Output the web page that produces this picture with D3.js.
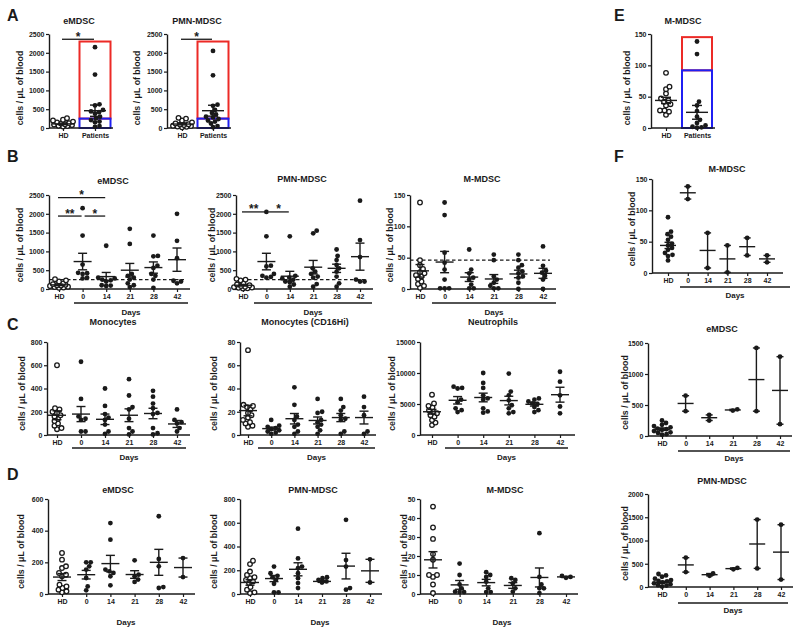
<!DOCTYPE html>
<html><head><meta charset="utf-8">
<script src="https://cdn.jsdelivr.net/npm/d3@7"></script>
<style>body{margin:0;background:#fff} svg{display:block}</style>
</head><body><script>
// ---------------- DATA ----------------
const catsAE = ["HD", "Patients"];
const catsDays = ["HD", "0", "14", "21", "28", "42"];
const t2500 = [0, 500, 1000, 1500, 2000, 2500];
const t150 = [0, 50, 100, 150];
const t800 = [0, 200, 400, 600, 800];
const t80 = [0, 20, 40, 60, 80];
const t15000 = [0, 5000, 10000, 15000];
const t600 = [0, 200, 400, 600];
const t50 = [0, 10, 20, 30, 40, 50];
const t1500 = [0, 500, 1000, 1500];
const t2000 = [0, 500, 1000, 1500, 2000];

// Panel A
const A_eMDSC = [[260,220,200,170,150,130,120,100,90,80,60,50,40],
                 [2150,1420,630,600,480,440,420,380,300,260,210,170,150,50,30]];
const A_eMDSC_mean = [110, 460], A_eMDSC_sem = [20, 150];
const A_PMN = [[270,250,200,150,120,100,90,80,60,50,40,30,20],
               [2050,1400,620,590,480,400,360,300,280,240,200,170,120,50,20]];
const A_PMN_mean = [105, 460], A_PMN_sem = [22, 145];
// Panel E
const E_MMDSC = [[88,66,62,55,47,44,42,38,36,28,28,26,21],
                 [138,118,42,36,27,18,13,8,4,2,1,0.5]];
const E_MMDSC_mean = [44, 25], E_MMDSC_sem = [5, 11];

// Panel B
const B_eMDSC = [[260,230,200,150,130,110,100,90,80,60,50,40,30],
                 [2150,1420,650,430,420,400,300,280],
                 [1150,300,280,250,230,200,100,90,80],
                 [1600,1200,400,350,300,250,150,100,50],
                 [1420,880,870,620,560,400,350,250,30],
                 [2000,1280,820,220,200,150]];
const B_eMDSC_mean = [110, 730, 330, 500, 570, 780], B_eMDSC_sem = [20, 220, 110, 180, 150, 310];
const B_PMN = [[270,250,230,150,120,100,80,60,50,40,30,20,10],
               [2050,1400,620,600,400,350,320,300],
               [1400,350,300,280,250,200,180,120,60],
               [1550,1480,550,460,400,330,300,130,60],
               [1050,880,770,640,550,460,330,150,60],
               [2350,1300,850,250,200,200]];
const B_PMN_mean = [100, 730, 340, 580, 550, 860], B_PMN_sem = [22, 220, 130, 180, 110, 360];
const B_MMDSC = [[138,46,38,32,27,25,22,20,16,12,8,5,2],
                 [138,118,58,42,31,15,1,1,1],
                 [63,31,25,18,15,7,1,1],
                 [55,46,20,15,10,5,1,1],
                 [55,46,38,34,28,25,20,18,10,0],
                 [68,37,29,26,21,15,0]];
const B_MMDSC_mean = [29, 43, 19, 16, 24, 25], B_MMDSC_sem = [10, 17, 7, 7, 6, 8];
const B_cutoff = [250, 250, 46];

// Panel C
const C_Mono = [[600,230,220,200,190,170,160,140,120,100,80,60,50],
                [630,310,160,140,130,30,30],
                [400,250,180,150,130,90,30,10],
                [480,340,240,220,140,60,30,5],
                [380,330,270,230,190,180,60,15,5],
                [220,130,110,100,60,30]];
const C_Mono_mean = [170, 180, 135, 170, 185, 95], C_Mono_sem = [38, 65, 45, 55, 45, 30];
const C_CD16 = [[73,26,25,24,22,19,17,15,13,11,10,8,7],
                [13,8,7,6,5,4,3,2,1],
                [41,26,16,13,9,7,3,1],
                [31,20,19,13,11,9,7,4,1],
                [31,24,21,17,14,13,3,1],
                [33,24,17,3,1]];
const C_CD16_mean = [21, 5.5, 14, 12.5, 15, 15], C_CD16_sem = [4.5, 1.3, 4.5, 3, 3.5, 5.5];
const C_Neut = [[6500,5100,4700,4450,4000,3750,3500,3200,2950,2400,2000,1600],
                [7800,7600,7500,5700,5300,4300,4000,3700],
                [10000,8400,7600,6400,5900,5700,4300,3800,3600],
                [9900,7000,6400,5600,4800,4300,3700,3500],
                [5900,5700,5400,5100,5000,4500,4000,3700],
                [10200,8600,6400,4600,3500]];
const C_Neut_mean = [3750, 5600, 6050, 5550, 4950, 6500], C_Neut_sem = [380, 600, 700, 700, 280, 1200];

// Panel D
const D_eMDSC = [[259,217,175,164,133,122,112,59,48,38,27,17,11],
                 [200,200,175,154,101,48,23],
                 [448,343,154,143,133,112,55],
                 [213,122,112,91,76],
                 [491,221,175,44,38],
                 [227,107]];
const D_eMDSC_mean = [107, 122, 192, 123, 200, 167], D_eMDSC_sem = [22, 27, 52, 24, 82, 60];
const D_PMN = [[280,252,189,161,142,133,119,106,92,58,36,14,8],
               [231,175,153,142,119,86,14,14],
               [550,300,231,217,175,133,92,50],
               [142,133,119,106,97],
               [625,286,231,50,36],
               [292,97]];
const D_PMN_mean = [97, 130, 208, 106, 235, 195], D_PMN_sem = [23, 26, 55, 8, 108, 97];
const D_MMDSC = [[46,35,29,21,18,10,10,9,5,0.5],
                 [16,10,5,3,1.2,1,1],
                 [11.5,10,9,6.5,3,1,1],
                 [8.3,7.4,5.6,3,1.2],
                 [32,9,5,3,3,0.5],
                 [9.5,9,8.5]];
const D_MMDSC_mean = [18, 4.8, 6, 4.5, 8.7, 9], D_MMDSC_sem = [4.3, 2.3, 1.7, 1.5, 5, 0.3];

// Panel F
const F_MMDSC = [[89,66,62,58,53,47,44,40,37,32,29,27,20],[138,118],[64,8],[44,1],[56,28],[28,17]];
const F_MMDSC_mean = [44, 128, 36, 22.5, 42, 22.5], F_MMDSC_sem = [5, 10, 28, 21.5, 14, 5.5];
const F_eMDSC = [[250,210,180,160,140,120,110,100,80,60,50,30,20],[650,400],[340,250],[430,410],[1420,400],[1280,190]];
const F_eMDSC_mean = [110, 525, 295, 420, 910, 735], F_eMDSC_sem = [20, 125, 45, 10, 510, 545];
const F_PMN = [[280,250,220,180,150,130,120,100,80,60,40,30,10],[630,320],[290,240],[410,380],[1450,400],[1340,160]];
const F_PMN_mean = [100, 475, 265, 395, 925, 750], F_PMN_sem = [22, 155, 25, 15, 525, 590];

// ---------------- DRAWING ----------------
const FONT = '"Liberation Sans", Arial, Helvetica, sans-serif';
const INK = "#1a1a1a";
const RED = "#ec2a26", BLUE = "#1f1ff2";
const svg = d3.select("body").append("svg").attr("width", 800).attr("height", 627)
  .style("font-family", FONT);

function label(g, x, y, s, size, opts = {}) {
  const t = g.append("text").attr("x", x).attr("y", y).text(s)
    .attr("font-size", size).attr("font-weight", "bold").attr("fill", INK)
    .attr("font-family", FONT).attr("text-anchor", opts.anchor || "middle");
  if (opts.rot) t.attr("transform", `rotate(-90,${x},${y})`).attr("dominant-baseline", "middle");
  return t;
}
function styleAxis(a) {
  a.attr("font-family", FONT).attr("font-size", 7).attr("font-weight", "bold").attr("color", INK);
  a.selectAll(".domain").attr("stroke-width", 1.4);
  a.selectAll(".tick line").attr("stroke-width", 1.2);
}
// compact GraphPad-like scatter: points may overlap slightly, spread capped
function swarm(vals, cx, y, r, maxSpread) {
  const pts = vals.map(v => ({ v, py: y(v) })).sort((a, b) => b.py - a.py);
  const placed = [];
  const minD = 1.75 * r;
  for (const p of pts) {
    let bestX = cx, bestD = -1;
    for (let k = 0; k < 200; k++) {
      const off = (k % 2 ? 1 : -1) * Math.ceil(k / 2) * 0.5;
      if (Math.abs(off) > maxSpread) break;
      const cand = cx + off;
      const dmin = placed.length ? Math.min(...placed.map(q => Math.hypot(q.px - cand, q.py - p.py))) : Infinity;
      if (dmin >= minD) { bestX = cand; bestD = Infinity; break; }
      if (dmin > bestD) { bestD = dmin; bestX = cand; }
    }
    p.px = bestX; placed.push(p);
  }
  return placed;
}

function drawPanel(c) {
  const g = svg.append("g");
  const y = d3.scaleLinear().domain([0, c.max]).range([c.y0, c.yTop]);
  const x = d3.scalePoint().domain(c.cats).range(c.xr);

  if (c.box) {
    const bx = x(c.cats[1]);
    g.append("rect").attr("x", bx - c.box.hw).attr("width", 2 * c.box.hw)
      .attr("y", y(c.box.top)).attr("height", y(c.box.mid) - y(c.box.top))
      .attr("fill", "none").attr("stroke", RED).attr("stroke-width", 2);
    g.append("rect").attr("x", bx - c.box.hw).attr("width", 2 * c.box.hw)
      .attr("y", y(c.box.mid)).attr("height", y(0) - y(c.box.mid))
      .attr("fill", "none").attr("stroke", BLUE).attr("stroke-width", 2);
  }

  if (c.cutoff !== undefined) {
    g.append("line").attr("x1", c.ax).attr("x2", c.xEnd - 6)
      .attr("y1", y(c.cutoff)).attr("y2", y(c.cutoff))
      .attr("stroke", INK).attr("stroke-width", 1.3).attr("stroke-dasharray", "3.5,2.5");
  }

  const ya = g.append("g").attr("transform", `translate(${c.ax},0)`)
    .call(d3.axisLeft(y).tickValues(c.ticks).tickSize(3).tickSizeOuter(0).tickPadding(1.5).tickFormat(d3.format("d")));
  styleAxis(ya);
  g.append("line").attr("x1", c.ax).attr("x2", c.xEnd).attr("y1", c.y0).attr("y2", c.y0)
    .attr("stroke", INK).attr("stroke-width", 1.4);
  const xa = g.append("g").attr("transform", `translate(0,${c.y0})`)
    .call(d3.axisBottom(x).tickSize(3).tickPadding(2));
  xa.select(".domain").remove();
  styleAxis(xa);

  c.groups.forEach((vals, i) => {
    const cx = x(c.cats[i]);
    const open = c.open[i];
    const pts = swarm(vals, cx, y, 2.4, c.spread || 9);
    g.selectAll(null).data(pts).enter().append("circle")
      .attr("cx", d => d.px).attr("cy", d => d.py).attr("r", open ? 2.3 : 2.4)
      .attr("fill", open ? "#fff" : INK).attr("stroke", INK).attr("stroke-width", open ? 1.3 : 0);
    const m = c.means[i], s = c.sems[i];
    const mw = c.mw, cw = c.cw;
    const ln = (x1, y1, x2, y2) => g.append("line").attr("x1", x1).attr("y1", y1).attr("x2", x2).attr("y2", y2)
      .attr("stroke", INK).attr("stroke-width", 1.4);
    ln(cx - mw, y(m), cx + mw, y(m));
    ln(cx, y(m - s), cx, y(m + s));
    ln(cx - cw, y(m - s), cx + cw, y(m - s));
    ln(cx - cw, y(m + s), cx + cw, y(m + s));
  });

  (c.sig || []).forEach(sg => {
    const x1 = x(sg.a) + (sg.a === "HD" ? -1 : 2), x2 = x(sg.b) - 1;
    g.append("line").attr("x1", x1).attr("x2", x2).attr("y1", y(sg.v)).attr("y2", y(sg.v))
      .attr("stroke", INK).attr("stroke-width", 1.3);
    label(g, (x1 + x2) / 2, y(sg.v) + 1.5, sg.s, 12);
  });

  label(g, c.tx, c.ty, c.title, 9);
  label(g, c.ylx, (c.y0 + c.yTop) / 2 + (c.yloff || 3), "cells / \u03bcL of blood", 8.8, { rot: true });
  if (c.ul) {
    g.append("line").attr("x1", c.ul[0]).attr("x2", c.ul[1]).attr("y1", c.uly).attr("y2", c.uly)
      .attr("stroke", INK).attr("stroke-width", 1.3);
  }
  if (c.daysY) label(g, c.daysX !== undefined ? c.daysX : (c.ul[0] + c.ul[1]) / 2, c.daysY, "Days", 8);
}

const common = { mw: 9, cw: 4.5 };
// A & E
drawPanel({ ...common, mw: 11, cw: 5, spread: 10, yloff: 7, cats: catsAE, groups: A_eMDSC, means: A_eMDSC_mean, sems: A_eMDSC_sem, open: [true, false],
  ax: 49, xr: [63, 95], xEnd: 113, y0: 128, yTop: 34, max: 2500, ticks: t2500, title: "eMDSC", tx: 79, ty: 24, ylx: 21,
  box: { hw: 15.5, top: 2300, mid: 250 }, sig: [{ a: "HD", b: "Patients", v: 2360, s: "*" }] });
drawPanel({ ...common, mw: 11, cw: 5, spread: 10, yloff: 7, cats: catsAE, groups: A_PMN, means: A_PMN_mean, sems: A_PMN_sem, open: [true, false],
  ax: 167, xr: [182, 213], xEnd: 231, y0: 128, yTop: 34, max: 2500, ticks: t2500, title: "PMN-MDSC", tx: 197, ty: 24, ylx: 138,
  box: { hw: 15.5, top: 2300, mid: 250 }, sig: [{ a: "HD", b: "Patients", v: 2360, s: "*" }] });
drawPanel({ ...common, mw: 11, cw: 5, spread: 10, yloff: 7, cats: catsAE, groups: E_MMDSC, means: E_MMDSC_mean, sems: E_MMDSC_sem, open: [true, false],
  ax: 651, xr: [666, 697], xEnd: 715, y0: 128, yTop: 34, max: 150, ticks: t150, title: "M-MDSC", tx: 683, ty: 24, ylx: 628,
  box: { hw: 15, top: 145, mid: 92 } });

const openDays = [true, false, false, false, false, false];
// B
drawPanel({ ...common, yloff: 0, cats: catsDays, groups: B_eMDSC, means: B_eMDSC_mean, sems: B_eMDSC_sem, open: openDays,
  ax: 49, xr: [59, 177], xEnd: 190, y0: 289, yTop: 195, max: 2500, ticks: t2500, title: "eMDSC", tx: 113, ty: 184, ylx: 21,
  cutoff: B_cutoff[0], ul: [74, 188], uly: 303, daysY: 315,
  sig: [{ a: "HD", b: "14", v: 2430, s: "*" }, { a: "HD", b: "0", v: 1940, s: "**" }, { a: "0", b: "14", v: 1940, s: "*" }] });
drawPanel({ ...common, yloff: 0, cats: catsDays, groups: B_PMN, means: B_PMN_mean, sems: B_PMN_sem, open: openDays,
  ax: 236, xr: [243, 360], xEnd: 373, y0: 289, yTop: 195, max: 2500, ticks: t2500, title: "PMN-MDSC", tx: 302, ty: 182, ylx: 213,
  cutoff: B_cutoff[1], ul: [254, 372], uly: 303, daysY: 315,
  sig: [{ a: "HD", b: "0", v: 2050, s: "**" }, { a: "0", b: "14", v: 2050, s: "*" }] });
drawPanel({ ...common, yloff: 0, cats: catsDays, groups: B_MMDSC, means: B_MMDSC_mean, sems: B_MMDSC_sem, open: openDays,
  ax: 410, xr: [420, 543], xEnd: 556, y0: 289, yTop: 195, max: 150, ticks: t150, title: "M-MDSC", tx: 482, ty: 182, ylx: 391,
  cutoff: B_cutoff[2], ul: [432, 556], uly: 303, daysY: 315 });

// C
drawPanel({ ...common, yloff: 5, cats: catsDays, groups: C_Mono, means: C_Mono_mean, sems: C_Mono_sem, open: openDays,
  ax: 47, xr: [57, 177], xEnd: 190, y0: 435, yTop: 342, max: 800, ticks: t800, title: "Monocytes", tx: 113, ty: 325, ylx: 23,
  ul: [72, 186], uly: 448, daysY: 460 });
drawPanel({ ...common, yloff: 5, cats: catsDays, groups: C_CD16, means: C_CD16_mean, sems: C_CD16_sem, open: openDays,
  ax: 240, xr: [248, 364], xEnd: 376, y0: 435, yTop: 342, max: 80, ticks: t80, title: "Monocytes (CD16Hi)", tx: 305, ty: 325, ylx: 215,
  ul: [258, 375], uly: 448, daysY: 460 });
drawPanel({ ...common, yloff: 5, cats: catsDays, groups: C_Neut, means: C_Neut_mean, sems: C_Neut_sem, open: openDays,
  ax: 420, xr: [432, 560], xEnd: 575, y0: 435, yTop: 342, max: 15000, ticks: t15000, title: "Neutrophils", tx: 493, ty: 325, ylx: 393,
  ul: [445, 568], uly: 448, daysY: 460 });

// D
drawPanel({ ...common, yloff: 5, cats: catsDays, groups: D_eMDSC, means: D_eMDSC_mean, sems: D_eMDSC_sem, open: openDays,
  ax: 48, xr: [62, 183], xEnd: 195, y0: 594, yTop: 499, max: 600, ticks: t600, title: "eMDSC", tx: 118, ty: 493, ylx: 22,
  daysX: 126, daysY: 625 });
drawPanel({ ...common, yloff: 5, cats: catsDays, groups: D_PMN, means: D_PMN_mean, sems: D_PMN_sem, open: openDays,
  ax: 240, xr: [250, 370], xEnd: 382, y0: 594, yTop: 499, max: 800, ticks: t800, title: "PMN-MDSC", tx: 313, ty: 493, ylx: 215,
  daysX: 320, daysY: 625 });
drawPanel({ ...common, yloff: 5, cats: catsDays, groups: D_MMDSC, means: D_MMDSC_mean, sems: D_MMDSC_sem, open: openDays,
  ax: 420, xr: [433, 566], xEnd: 578, y0: 594, yTop: 499, max: 50, ticks: t50, title: "M-MDSC", tx: 505, ty: 493, ylx: 405,
  daysX: 502, daysY: 625 });

// F
const closedAll = [false, false, false, false, false, false];
drawPanel({ ...common, mw: 8, cw: 3.5, yloff: 3, cats: catsDays, groups: F_MMDSC, means: F_MMDSC_mean, sems: F_MMDSC_sem, open: closedAll,
  ax: 652, xr: [668, 767], xEnd: 783, y0: 273, yTop: 179, max: 150, ticks: t150, title: "M-MDSC", tx: 727, ty: 172, ylx: 633,
  ul: [680, 790], uly: 287, daysY: 298 });
drawPanel({ ...common, mw: 8, cw: 3.5, yloff: 3, cats: catsDays, groups: F_eMDSC, means: F_eMDSC_mean, sems: F_eMDSC_sem, open: closedAll,
  ax: 648, xr: [662, 780], xEnd: 792, y0: 436, yTop: 343, max: 1500, ticks: t1500, title: "eMDSC", tx: 722, ty: 332, ylx: 626,
  ul: [678, 790], uly: 451, daysY: 461 });
drawPanel({ ...common, mw: 8, cw: 3.5, yloff: 3, cats: catsDays, groups: F_PMN, means: F_PMN_mean, sems: F_PMN_sem, open: closedAll,
  ax: 648, xr: [662, 781], xEnd: 793, y0: 587, yTop: 494, max: 2000, ticks: t2000, title: "PMN-MDSC", tx: 722, ty: 484, ylx: 626,
  ul: [678, 788], uly: 603, daysY: 613 });

// panel letters
[["A", 7, 21], ["B", 7, 162], ["C", 7, 330], ["D", 7, 480], ["E", 614, 21], ["F", 614, 162]].forEach(([s, x, yy]) =>
  label(svg, x, yy, s, 16, { anchor: "start" }));
</script></body></html>
